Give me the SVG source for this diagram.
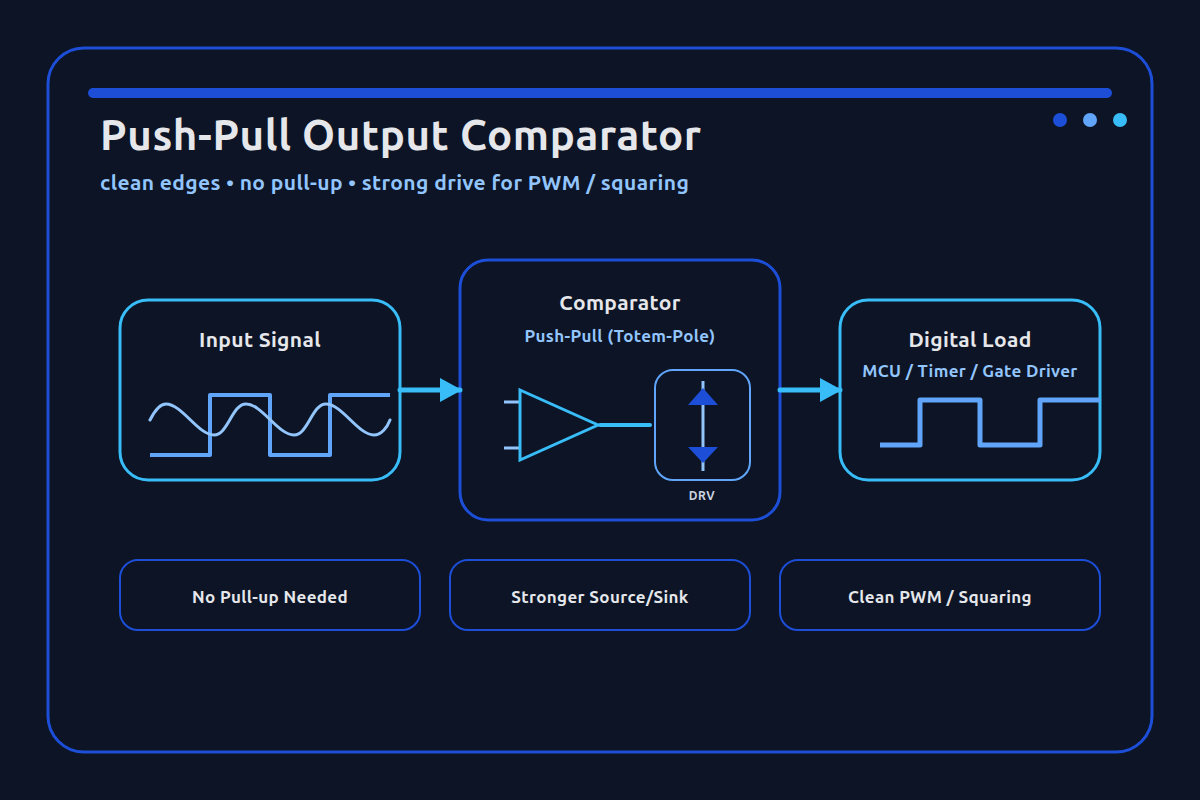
<svg xmlns="http://www.w3.org/2000/svg" width="1200" height="800" viewBox="0 0 1200 800">
<style>
text{font-family:"Ubuntu Sans",Ubuntu,"Noto Sans",sans-serif;text-anchor:middle}
.box{fill:#0c1425;stroke:#38bdf8;stroke-width:3}
.tag{fill:#0c1425;stroke:#1d4ed8;stroke-width:2}
.h{font-size:21px;font-weight:700;fill:#e5e7eb;letter-spacing:.35px}
.s{font-size:17px;font-weight:700;fill:#93c5fd;letter-spacing:.35px}
.t{font-size:17px;font-weight:700;fill:#e5e7eb;letter-spacing:.35px}
.wire{fill:none;stroke-linejoin:round}
</style>
<rect width="1200" height="800" fill="#0c1425"/>
<g id="frame">
<rect x="48" y="48" width="1104" height="704" rx="36" fill="#0c1425" stroke="#1d4ed8" stroke-width="3"/>
<rect x="88" y="88" width="1024" height="10" rx="5" fill="#1d4ed8"/>
<circle cx="1060" cy="120" r="7" fill="#1d4ed8"/>
<circle cx="1090" cy="120" r="7" fill="#60a5fa"/>
<circle cx="1120" cy="120" r="7" fill="#38bdf8"/>
<text x="100" y="150" style="text-anchor:start;font-size:42px;font-weight:700;fill:#e5e7eb;letter-spacing:.62px">Push-Pull Output Comparator</text>
<text x="100" y="190" style="text-anchor:start;font-size:21px;font-weight:700;fill:#93c5fd;letter-spacing:.4px">clean edges • no pull-up • strong drive for PWM / squaring</text>
</g>
<g id="input">
<rect class="box" x="120" y="300" width="280" height="180" rx="28"/>
<text class="h" x="260" y="347">Input Signal</text>
<path class="wire" d="M150 455H210V395H270V455H330V395H390" stroke="#60a5fa" stroke-width="4"/>
<path class="wire" d="M150 420C155 410 160 404 166 404C182 404 198 435 214 435C228 435 232 404 246 404C262 404 278 435 294 435C308 435 312 404 326 404C342 404 358 435 374 435C381 435 387 428 390 420" stroke="#93c5fd" stroke-width="3" stroke-linecap="round"/>
</g>
<g id="comparator">
<rect x="460" y="260" width="320" height="260" rx="28" fill="#0c1425" stroke="#1d4ed8" stroke-width="3"/>
<text class="h" x="620" y="310">Comparator</text>
<text class="s" x="620" y="342">Push-Pull (Totem-Pole)</text>
<path d="M504 402H520M504 448H520" stroke="#93c5fd" stroke-width="3" fill="none"/>
<polygon points="520,390 598,425 520,460" fill="none" stroke="#38bdf8" stroke-width="3"/>
<line x1="600" y1="425" x2="650" y2="425" stroke="#38bdf8" stroke-width="4" stroke-linecap="round"/>
<rect x="655" y="370" width="95" height="110" rx="18" fill="none" stroke="#60a5fa" stroke-width="2"/>
<line x1="703" y1="381" x2="703" y2="471" stroke="#93c5fd" stroke-width="3"/>
<polygon points="703,388 688,405 718,405" fill="#1d4ed8"/>
<polygon points="688,447 718,447 703,463" fill="#1d4ed8"/>
<text x="702" y="500" style="font-size:12px;font-weight:700;fill:#cbd5e1;letter-spacing:.5px">DRV</text>
</g>
<g id="load">
<rect class="box" x="840" y="300" width="260" height="180" rx="28"/>
<text class="h" x="970" y="347">Digital Load</text>
<text class="s" x="970" y="377">MCU / Timer / Gate Driver</text>
<path class="wire" d="M880 445H920V400H980V445H1040V400H1100" stroke="#60a5fa" stroke-width="5"/>
</g>
<g id="tag1"><rect class="tag" x="120" y="560" width="300" height="70" rx="18"/><text class="t" x="270" y="603">No Pull-up Needed</text></g>
<g id="tag2"><rect class="tag" x="450" y="560" width="300" height="70" rx="18"/><text class="t" x="600" y="603">Stronger Source/Sink</text></g>
<g id="tag3"><rect class="tag" x="780" y="560" width="320" height="70" rx="18"/><text class="t" x="940" y="603">Clean PWM / Squaring</text></g>
<g id="connectors" stroke="#38bdf8" fill="#38bdf8">
<path d="M400 390H460M780 390H840" stroke-width="5" stroke-linecap="round" fill="none"/>
<polygon points="440,378 462,390 440,402" stroke="none"/>
<polygon points="820,378 842,390 820,402" stroke="none"/>
</g>
</svg>
